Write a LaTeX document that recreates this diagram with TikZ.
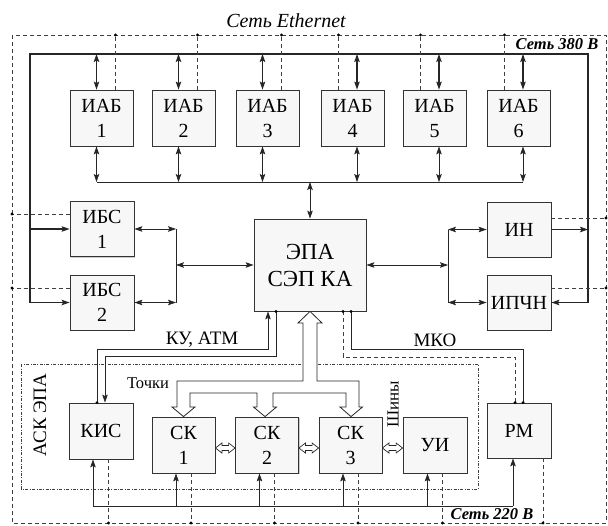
\documentclass[tikz,border=0pt]{standalone}
\usepackage{fontspec}
\setmainfont{Liberation Serif}
\usetikzlibrary{arrows.meta,calc,shadows}
\begin{document}
\begin{tikzpicture}[x=1pt,y=-1pt,
 box/.style={draw=black!80, line width=0.8pt, fill=gray!6, inner sep=0pt, align=center,
   font=\fontsize{20}{25}\selectfont,
   drop shadow={shadow xshift=1pt,shadow yshift=-1pt,opacity=0.4,fill=gray}},
 ln/.style={draw=black!85, line width=0.8pt},
 pw/.style={draw=black!85, line width=1.1pt},
 tip/.tip={Stealth[length=8pt,width=5.5pt,inset=1.5pt]},
 ar/.style={ln, -tip},
 dar/.style={ln, tip-tip},
 par/.style={pw, -tip},
 pdar/.style={pw, tip-tip},
 dsh/.style={draw=black!75, line width=0.75pt, dash pattern=on 4pt off 3pt},
 dashdot/.style={draw=black!75, line width=0.6pt, dash pattern=on 3pt off 1.5pt on 0.8pt off 1.5pt},
 dotn/.style={circle, fill=black, inner sep=0pt, minimum size=3.2pt},
 lbl/.style={font=\fontsize{19}{21}\selectfont, inner sep=0pt},
 net/.style={font=\fontsize{16.5}{19}\selectfont\bfseries\itshape, inner sep=0pt}
]
\useasboundingbox (0,0) rectangle (608,525);

% ---------- frames ----------
\coordinate (E1) at (12,35);
\coordinate (E2) at (606,523);
\draw[dsh] (E1) rectangle (E2);
\coordinate (L380) at (30,54);
\coordinate (R380) at (588,54);
\coordinate (busy) at (0,182);
\coordinate (jl) at (176,0);
\coordinate (jr) at (448,0);
\coordinate (b220) at (0,506);

\node[font=\fontsize{20}{22}\selectfont\itshape, inner sep=0pt] (ethlbl) at (286,21) {Сеть Ethernet};
\node[net] (l380) at (557,44) {Сеть 380 В};
\node[net] (l220) at (492,514) {Сеть 220 В};

% ---------- nodes ----------
\foreach \i/\cx in {1/101.5,2/183.5,3/267.5,4/352.5,5/434.5,6/518.5}
  \node[box, minimum width=63pt, minimum height=56pt] (iab\i) at (\cx,118) {ИАБ\\\i};

\node[box, minimum width=64pt, minimum height=55pt] (ibs1) at (102,229) {ИБС\\1};
\node[box, minimum width=64pt, minimum height=55pt] (ibs2) at (102,302.5) {ИБС\\2};
\node[box, minimum width=64pt, minimum height=55pt] (in) at (519,229.5) {ИН};
\node[box, minimum width=64pt, minimum height=55pt] (ipchn) at (519,302.5) {ИПЧН};
\node[box, minimum width=112pt, minimum height=92pt, font=\fontsize{23}{27}\selectfont] (epa) at (310,265) {ЭПА\\СЭП КА};
\node[box, minimum width=64pt, minimum height=56pt] (kis) at (101,431) {КИС};
\node[box, minimum width=63pt, minimum height=56pt] (sk1) at (183.5,445) {СК\\1};
\node[box, minimum width=63pt, minimum height=56pt] (sk2) at (267,445) {СК\\2};
\node[box, minimum width=63pt, minimum height=56pt] (sk3) at (350.5,445) {СК\\3};
\node[box, minimum width=64pt, minimum height=56pt] (ui) at (435,445) {УИ};
\node[box, minimum width=64pt, minimum height=55pt] (rm) at (519,430.5) {РМ};

% ---------- ASK frame ----------
\draw[dashdot] (21,364) rectangle (478,489);
\node[lbl, rotate=90] (ask) at (40,415) {АСК ЭПА};
\node[font=\fontsize{16.5}{18}\selectfont, inner sep=0pt] (tochki) at (148,383) {Точки};
\node[font=\fontsize{17}{18}\selectfont, inner sep=0pt, rotate=90] (shiny) at (393,404) {Шины};

% ---------- 380 V network ----------
\draw[pw] (L380 |- ibs2.west) -- (L380) -- (R380) -- (R380 |- ipchn.east);
\draw[par] (L380 |- ibs1.west) -- (ibs1.west);
\draw[par] (L380 |- ibs2.west) -- (ibs2.west);
\draw[par] (in.east) -- (in.east -| R380);
\draw[par] (R380 |- ipchn.east) -- (ipchn.east);

% IAB connections
\foreach \i in {1,2,3}{
  \draw[pdar] ([xshift=-5pt]iab\i.north |- L380) -- ([xshift=-5pt]iab\i.north);
  \draw[dar] ([xshift=-5pt]iab\i.south) -- ([xshift=-5pt]iab\i.south |- busy);
  \draw[dsh] ([xshift=14pt]iab\i.north) -- ([xshift=14pt]iab\i.north |- E1) node[dotn]{};
}
\foreach \i in {4,5,6}{
  \draw[pdar] ([xshift=4.5pt]iab\i.north |- L380) -- ([xshift=4.5pt]iab\i.north);
  \draw[dar] ([xshift=4.5pt]iab\i.south) -- ([xshift=4.5pt]iab\i.south |- busy);
  \draw[dsh] ([xshift=-14pt]iab\i.north) -- ([xshift=-14pt]iab\i.north |- E1) node[dotn]{};
}
\draw[ln] ([xshift=-5pt]iab1.south |- busy) -- ([xshift=4.5pt]iab6.south |- busy);
\draw[dar] (epa.north |- busy) -- (epa.north);

% left / right junctions
\draw[ln] (jl |- ibs1.east) -- (jl |- ibs2.east);
\draw[dar] (ibs1.east) -- (jl |- ibs1.east);
\draw[dar] (ibs2.east) -- (jl |- ibs2.east);
\draw[dar] (jl |- epa.west) -- (epa.west);
\draw[ln] (jr |- in.west) -- (jr |- ipchn.west);
\draw[dar] (jr |- in.west) -- (in.west);
\draw[dar] (jr |- ipchn.west) -- (ipchn.west);
\draw[dar] (epa.east) -- (jr |- epa.east);

% Ethernet branches (left/right)
\draw[dsh] ([yshift=15pt]ibs1.west) -- ([yshift=15pt]ibs1.west -| E1) node[dotn]{};
\draw[dsh] ([yshift=14.5pt]ibs2.west) -- ([yshift=14.5pt]ibs2.west -| E1) node[dotn]{};
\draw[dsh] ([yshift=11.5pt]in.east) -- ([yshift=11.5pt]in.east -| E2) node[dotn]{};
\draw[dsh] ([yshift=14.5pt]ipchn.east) -- ([yshift=14.5pt]ipchn.east -| E2) node[dotn]{};

% KU, ATM
\coordinate (ku1) at (0,349);
\coordinate (ku2) at (0,356);
\draw[ar] ([xshift=-4pt]kis.north) node[dotn]{} -- ([xshift=-4pt]kis.north |- ku1) -- ([xshift=-42pt]epa.south |- ku1) -- ([xshift=-42pt]epa.south);
\draw[ar] ([xshift=-34pt]epa.south) node[dotn]{} -- ([xshift=-34pt]epa.south |- ku2) -- ([xshift=4pt]kis.north |- ku2) -- ([xshift=4pt]kis.north);
\node[lbl] (kulbl) at (202,340) {КУ, АТМ};

% MKO
\draw[dsh] ([xshift=33pt]epa.south) node[dotn]{} -- ([xshift=33pt]epa.south |- 0,357) -- ([xshift=-4pt]rm.north |- 0,357) -- ([xshift=-4pt]rm.north) node[dotn]{};
\draw[ln] ([xshift=41pt]epa.south) node[dotn]{} -- ([xshift=41pt]epa.south |- ku1) -- ([xshift=4pt]rm.north |- ku1) -- ([xshift=4pt]rm.north) node[dotn]{};
\node[lbl] (mkolbl) at (435,340) {МКО};

% hollow bus "Точки"
\draw[ln, fill=white, line join=miter]
  (epa.south) -- (322,323) -- (317,323) -- (317,381) -- (359,381) -- (359,407) -- (362.5,407)
  -- (sk3.north -| 351,0) -- (340,407) -- (346,407) -- (346,393) -- (273,393) -- (273,407) -- (276.5,407)
  -- (sk2.north -| 265,0) -- (253.5,407) -- (257,407) -- (257,393) -- (190,393) -- (190,407) -- (195,407)
  -- (sk1.north) -- (172,407) -- (177,407) -- (177,381) -- (303,381) -- (303,323) -- (298,323) -- cycle;

% hollow double arrows "Шины"
\newcommand{\hlr}[2]{%
  \draw[ln, line width=0.7pt, fill=white, line join=miter] let \p1=(#1), \p2=(#2) in
   (\x1,\y1-3pt) -- (\x1+6.5pt,\y1+2pt) -- (\x1+6.5pt,\y1-0.5pt) -- (\x2-6.5pt,\y1-0.5pt) -- (\x2-6.5pt,\y1+2pt)
   -- (\x2,\y1-3pt) -- (\x2-6.5pt,\y1-8pt) -- (\x2-6.5pt,\y1-5.5pt) -- (\x1+6.5pt,\y1-5.5pt) -- (\x1+6.5pt,\y1-8pt) -- cycle;}
\hlr{sk1.east}{sk2.west}
\hlr{sk2.east}{sk3.west}
\hlr{sk3.east}{ui.west}

% 220 V network
\draw[ln] ([xshift=-8pt]kis.south |- b220) -- ([xshift=-6pt]rm.south |- b220);
\draw[ar] ([xshift=-8pt]kis.south |- b220) -- ([xshift=-8pt]kis.south);
\foreach \n in {sk1,sk2,sk3,ui}
  \draw[ar] ([xshift=-7.5pt]\n.south |- b220) -- ([xshift=-7.5pt]\n.south);
\draw[ar] ([xshift=-6pt]rm.south |- b220) -- ([xshift=-6pt]rm.south);

% Ethernet drops at bottom
\foreach \n in {kis,sk1,sk2,sk3,ui}
  \draw[dsh] ([xshift=7.5pt]\n.south) -- ([xshift=7.5pt]\n.south |- E2) node[dotn]{};
\draw[dsh] ([xshift=24pt]rm.south) -- ([xshift=24pt]rm.south |- E2) node[dotn]{};
\end{tikzpicture}
\end{document}
